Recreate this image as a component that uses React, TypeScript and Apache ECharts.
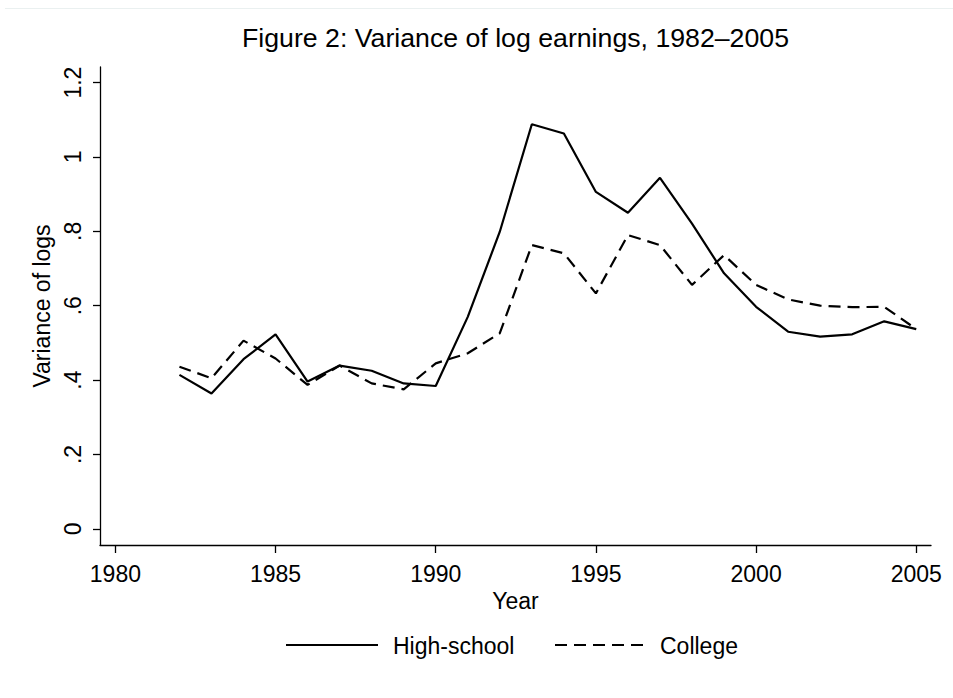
import React, { useEffect, useRef } from "react";
import * as echarts from "echarts";

const years = [1982, 1983, 1984, 1985, 1986, 1987, 1988, 1989, 1990, 1991, 1992, 1993, 1994, 1995, 1996, 1997, 1998, 1999, 2000, 2001, 2002, 2003, 2004, 2005];
const highSchool = [0.414, 0.364, 0.456, 0.523, 0.396, 0.439, 0.425, 0.391, 0.384, 0.570, 0.799, 1.088, 1.063, 0.906, 0.850, 0.944, 0.821, 0.687, 0.597, 0.530, 0.517, 0.523, 0.558, 0.537];
const college = [0.436, 0.405, 0.506, 0.458, 0.387, 0.439, 0.391, 0.375, 0.445, 0.472, 0.526, 0.763, 0.741, 0.633, 0.790, 0.763, 0.656, 0.736, 0.656, 0.617, 0.600, 0.596, 0.597, 0.537];
const xTicks = [1980, 1985, 1990, 1995, 2000, 2005];
const yTicks = [0, 0.2, 0.4, 0.6, 0.8, 1, 1.2];
const yTickLabels = ["0", ".2", ".4", ".6", ".8", "1", "1.2"];
const seriesNames = ["High-school", "College"];

const FONT = "'Liberation Sans', Arial, sans-serif";
const DASH = [12, 7];

export default function App() {
  const ref = useRef<HTMLDivElement>(null);
  useEffect(() => {
    if (!ref.current) return;
    const chart = echarts.init(ref.current, undefined, { renderer: "svg" });
    const hs = years.map((y, i) => [y, highSchool[i]]);
    const co = years.map((y, i) => [y, college[i]]);
    const legendY = 645;
    chart.setOption({
      animation: false,
      backgroundColor: "#ffffff",
      textStyle: { fontFamily: FONT, color: "#000" },
      grid: { left: 100, right: 22, top: 67, bottom: 153, containLabel: false },
      graphic: [
        {
          type: "line",
          shape: { x1: 5, y1: 8.5, x2: 953, y2: 8.5 },
          style: { stroke: "#eaf0f0", lineWidth: 1 },
        },
        {
          type: "text",
          x: 515.5,
          y: 38,
          style: {
            text: "Figure 2: Variance of log earnings, 1982\u20132005",
            fontFamily: FONT,
            fontSize: 26.7,
            fill: "#000",
            textAlign: "center",
            textVerticalAlign: "middle",
          },
        },
        {
          type: "line",
          shape: { x1: 286, y1: legendY, x2: 378, y2: legendY },
          style: { stroke: "#000", lineWidth: 2.2 },
        },
        {
          type: "text",
          x: 393,
          y: legendY + 1,
          style: {
            text: seriesNames[0],
            fontFamily: FONT,
            fontSize: 23,
            fill: "#000",
            textAlign: "left",
            textVerticalAlign: "middle",
          },
        },
        {
          type: "line",
          shape: { x1: 555, y1: legendY, x2: 647, y2: legendY },
          style: { stroke: "#000", lineWidth: 2.2, lineDash: DASH },
        },
        {
          type: "text",
          x: 660,
          y: legendY + 1,
          style: {
            text: seriesNames[1],
            fontFamily: FONT,
            fontSize: 23,
            fill: "#000",
            textAlign: "left",
            textVerticalAlign: "middle",
          },
        },
      ],
      xAxis: {
        type: "value",
        min: 1979.52,
        max: 2005.46,
        name: "Year",
        nameLocation: "middle",
        nameGap: 38,
        nameTextStyle: { fontFamily: FONT, fontSize: 23, color: "#000" },
        axisLine: { show: true, onZero: false, lineStyle: { color: "#000", width: 1.3 } },
        axisTick: { show: true, length: 8, customValues: xTicks, lineStyle: { color: "#000", width: 1.3 } },
        axisLabel: {
          customValues: xTicks,
          fontFamily: FONT,
          fontSize: 23,
          color: "#000",
          margin: 17,
          formatter: (v: number) => String(v),
        },
        splitLine: { show: false },
      },
      yAxis: {
        type: "value",
        min: -0.0436,
        max: 1.242,
        name: "Variance of logs",
        nameLocation: "middle",
        nameGap: 46,
        nameRotate: 90,
        nameTextStyle: { fontFamily: FONT, fontSize: 23, color: "#000" },
        axisLine: { show: true, onZero: false, lineStyle: { color: "#000", width: 1.3 } },
        axisTick: { show: true, length: 7, customValues: yTicks, lineStyle: { color: "#000", width: 1.3 } },
        axisLabel: {
          customValues: yTicks,
          rotate: 90,
          fontFamily: FONT,
          fontSize: 23,
          color: "#000",
          margin: 16,
          formatter: (v: number) => {
            const idx = yTicks.findIndex((t) => Math.abs(t - v) < 1e-6);
            return idx >= 0 ? yTickLabels[idx] : "";
          },
        },
        splitLine: { show: false },
      },
      series: [
        {
          name: seriesNames[0],
          type: "line",
          data: hs,
          symbol: "none",
          showSymbol: false,
          lineStyle: { color: "#000", width: 2.2, type: "solid" },
          itemStyle: { color: "#000" },
        },
        {
          name: seriesNames[1],
          type: "line",
          data: co,
          symbol: "none",
          showSymbol: false,
          lineStyle: { color: "#000", width: 2.2, type: DASH },
          itemStyle: { color: "#000" },
        },
      ],
    });
    return () => chart.dispose();
  }, []);
  return (
    <div
      ref={ref}
      style={{ position: "fixed", left: 0, top: 0, width: 953, height: 698, background: "#fff" }}
    />
  );
}
